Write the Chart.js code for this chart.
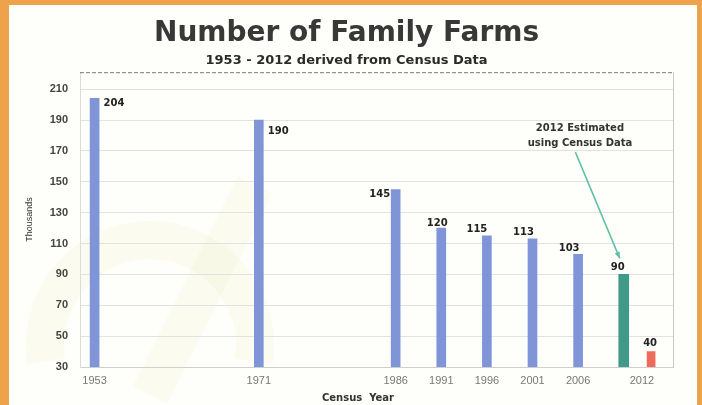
<!DOCTYPE html>
<html>
<head>
<meta charset="utf-8">
<script src="https://cdn.jsdelivr.net/npm/chart.js@4/dist/chart.umd.min.js"></script>
<style>
  html, body { margin: 0; padding: 0; background: #eea24c; }
  canvas { display: block; }
</style>
</head>
<body>
<canvas id="farms" width="702" height="405"></canvas>
<script>
// census counts (thousands)
const censusYears = [1953, 1971, 1986, 1991, 1996, 2001, 2006];
const censusFarms = [204, 190, 145, 120, 115, 113, 103];

// the two 2012 bars sit either side of the 2012 tick in the source
const estimatedPos = [2011];
const estimatedFarms = [90];
const actualPos = [2014];
const actualFarms = [40];

const yTicks = [30, 50, 70, 90, 110, 130, 150, 170, 190, 210];
const xTickPos = [1953, 1971, 1986, 1991, 1996, 2001, 2006, 2013];
const xTickLabels = ['1953', '1971', '1986', '1991', '1996', '2001', '2006', '2012'];

const FONT = '"Liberation Sans", Arial, sans-serif';
const WIDE = '"DejaVu Sans", Verdana, sans-serif';

const toPoints = (xs, ys) => xs.map((x, i) => ({ x: x, y: ys[i] }));

// paper background, orange frame and faint watermark
const backgroundPlugin = {
  id: 'paper',
  beforeDraw(chart) {
    const ctx = chart.ctx;
    ctx.save();
    ctx.fillStyle = '#eea24c';
    ctx.fillRect(0, 0, chart.width, chart.height);
    ctx.fillStyle = '#fefefa';
    ctx.fillRect(9, 5, chart.width - 14, chart.height - 5);

    ctx.strokeStyle = 'rgba(236,236,190,0.18)';
    ctx.lineWidth = 38;
    ctx.beginPath();
    ctx.arc(150, 345, 105, Math.PI * 0.95, Math.PI * 2.05);
    ctx.stroke();
    ctx.beginPath();
    ctx.moveTo(150, 395);
    ctx.lineTo(255, 185);
    ctx.stroke();
    ctx.restore();
  }
};

// chart frame: dashed top edge and right edge
const framePlugin = {
  id: 'frame',
  beforeDatasetsDraw(chart) {
    const { ctx, chartArea: a } = chart;
    ctx.save();
    ctx.strokeStyle = '#777';
    ctx.lineWidth = 1;
    ctx.setLineDash([4, 2]);
    ctx.beginPath();
    ctx.moveTo(a.left, a.top + 0.5);
    ctx.lineTo(a.right, a.top + 0.5);
    ctx.stroke();
    ctx.setLineDash([]);
    ctx.strokeStyle = '#c8c8c8';
    ctx.beginPath();
    ctx.moveTo(a.right + 0.5, a.top);
    ctx.lineTo(a.right + 0.5, a.bottom);
    ctx.stroke();
    ctx.restore();
  }
};

// value labels next to each bar top
const valueLabelPlugin = {
  id: 'valueLabels',
  afterDatasetsDraw(chart) {
    const ctx = chart.ctx;
    const offsets = [
      [[9, 5, 'left'], [9, 11, 'left'], [-16, 5, 'center'], [-4, -5, 'center'],
       [-10, -6, 'center'], [-9, -6, 'center'], [-9, -6, 'center']],
      [[-6, -7, 'center']],
      [[-1, -8, 'center']]
    ];
    ctx.save();
    ctx.font = 'bold 10px ' + WIDE;
    ctx.fillStyle = '#222';
    ctx.textBaseline = 'middle';
    chart.data.datasets.forEach((ds, di) => {
      const meta = chart.getDatasetMeta(di);
      meta.data.forEach((el, i) => {
        const [dx, dy, align] = offsets[di][i];
        ctx.textAlign = align;
        ctx.fillText(String(ds.data[i].y), el.x + dx, el.y + dy);
      });
    });
    ctx.restore();
  }
};

// "2012 Estimated" note with arrow, plus x axis caption
const notePlugin = {
  id: 'note',
  afterDraw(chart) {
    const { ctx, scales: { x, y } } = chart;
    const bar = chart.getDatasetMeta(1).data[0];
    ctx.save();
    ctx.font = 'bold 10px ' + WIDE;
    ctx.fillStyle = '#333';
    ctx.textAlign = 'center';
    ctx.textBaseline = 'middle';
    const tx = x.getPixelForValue(2006.2);
    ctx.fillText('2012 Estimated', tx, y.getPixelForValue(184.8));
    ctx.fillText('using Census Data', tx, y.getPixelForValue(175.1));

    const sx = x.getPixelForValue(2005.7), sy = y.getPixelForValue(169.2);
    const ex = bar.x - 4, ey = bar.y - 16;
    ctx.strokeStyle = '#5cbfa6';
    ctx.fillStyle = '#5cbfa6';
    ctx.lineWidth = 1.5;
    ctx.beginPath();
    ctx.moveTo(sx, sy);
    ctx.lineTo(ex, ey);
    ctx.stroke();
    const ang = Math.atan2(ey - sy, ex - sx);
    ctx.beginPath();
    ctx.moveTo(ex, ey);
    ctx.lineTo(ex - 7 * Math.cos(ang - 0.4), ey - 7 * Math.sin(ang - 0.4));
    ctx.lineTo(ex - 7 * Math.cos(ang + 0.4), ey - 7 * Math.sin(ang + 0.4));
    ctx.closePath();
    ctx.fill();

    ctx.font = 'bold 10px ' + WIDE;
    ctx.fillStyle = '#333';
    ctx.textAlign = 'left';
    ctx.fillText('Census  Year', 322, 398);
    ctx.restore();
  }
};

new Chart(document.getElementById('farms'), {
  type: 'bar',
  data: {
    datasets: [{
      label: 'Census',
      data: toPoints(censusYears, censusFarms),
      backgroundColor: '#7f95d8',
      barThickness: 9
    }, {
      label: '2012 Estimated',
      data: toPoints(estimatedPos, estimatedFarms),
      backgroundColor: '#3f9b88',
      barThickness: 10
    }, {
      label: '2012',
      data: toPoints(actualPos, actualFarms),
      backgroundColor: '#f06a5c',
      barThickness: 8
    }]
  },
  plugins: [backgroundPlugin, framePlugin, valueLabelPlugin, notePlugin],
  options: {
    responsive: false,
    animation: false,
    grouped: false,
    layout: { padding: { left: 20, right: 29, top: 0, bottom: 0 } },
    plugins: {
      legend: { display: false },
      tooltip: { enabled: false },
      title: {
        display: true,
        text: 'Number of Family Farms',
        color: '#383838',
        font: { family: WIDE, size: 28, weight: 'bold' },
        padding: { top: 17, bottom: 2 }
      },
      subtitle: {
        display: true,
        text: '1953 - 2012 derived from Census Data',
        color: '#2a2a2a',
        font: { family: WIDE, size: 13, weight: 'bold' },
        padding: { top: 0, bottom: 4 }
      }
    },
    scales: {
      x: {
        type: 'linear',
        offset: false,
        min: 1951.4,
        max: 2016.4,
        afterBuildTicks: scale => {
          scale.ticks = xTickPos.map(v => ({ value: v }));
        },
        afterFit: scale => { scale.height = 38; },
        grid: { display: false, drawTicks: false },
        border: { color: '#cfcfcf' },
        ticks: {
          padding: 7,
          color: '#777',
          font: { family: FONT, size: 11 },
          maxRotation: 0,
          callback: (value, index) => xTickLabels[index]
        }
      },
      y: {
        min: 30,
        max: 221,
        afterBuildTicks: scale => {
          scale.ticks = yTicks.map(v => ({ value: v }));
        },
        afterFit: scale => { scale.width = 60; },
        grid: { color: '#e2e2e2', drawTicks: false },
        border: { color: '#dcdcdc' },
        ticks: {
          padding: 12,
          color: '#444',
          font: { family: FONT, size: 11, weight: 'bold' }
        },
        title: {
          display: true,
          text: 'Thousands',
          color: '#333',
          font: { family: FONT, size: 9 },
          padding: { top: 4, bottom: 0 }
        }
      }
    }
  }
});
</script>
</body>
</html>
